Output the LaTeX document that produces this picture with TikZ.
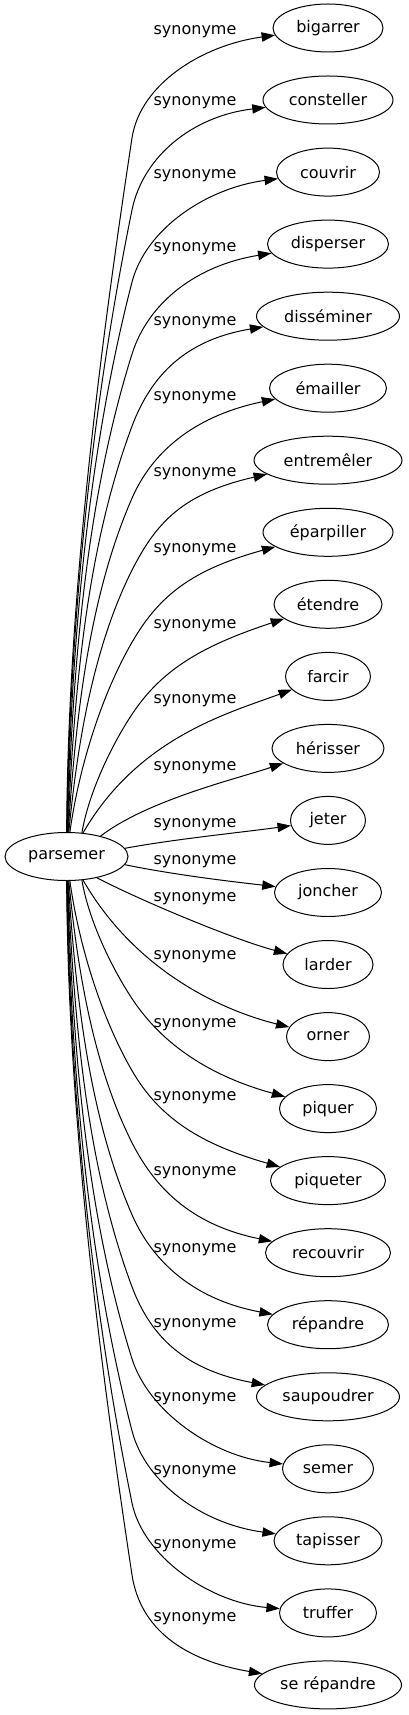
\documentclass[tikz,border=0pt]{standalone}
\usepackage{fontspec}
\setmainfont{DejaVu Sans}
\usetikzlibrary{shapes.geometric,arrows.meta}
\begin{document}
\begin{tikzpicture}[x=0.75pt, y=-0.75pt,
        mot/.style={draw, ellipse, line width=0.75pt, minimum height=36pt, inner sep=1pt, font=\fontsize{12}{14}\selectfont},
        lien/.style={line width=0.75pt, -{Triangle[length=10pt, width=7pt]}},
        etiq/.style={inner sep=0pt, font=\fontsize{12}{14}\selectfont}]
            \useasboundingbox ( 0, 0 ) rectangle ( 408, 1715 );

            % mot de départ
            \node [mot, minimum width=92.25pt] (parsemer) at ( 66.5, 856.5 ) {parsemer};

            % synonymes
            \node [mot, minimum width=82.5pt] (bigarrer) at ( 328, 28 ) {bigarrer};
            \node [mot, minimum width=97.5pt] (consteller) at ( 328, 100 ) {consteller};
            \node [mot, minimum width=77.25pt] (couvrir) at ( 328, 172.1 ) {couvrir};
            \node [mot, minimum width=90.75pt] (disperser) at ( 328, 244.1 ) {disperser};
            \node [mot, minimum width=107.25pt] (disseminer) at ( 328, 316.2 ) {disséminer};
            \node [mot, minimum width=87.75pt] (emailler) at ( 328, 388.2 ) {émailler};
            \node [mot, minimum width=111pt] (entremeler) at ( 328, 460.2 ) {entremêler};
            \node [mot, minimum width=97.5pt] (eparpiller) at ( 328, 532.3 ) {éparpiller};
            \node [mot, minimum width=81pt] (etendre) at ( 328, 604.3 ) {étendre};
            \node [mot, minimum width=63.75pt] (farcir) at ( 328, 676.4 ) {farcir};
            \node [mot, minimum width=84pt] (herisser) at ( 328, 748.4 ) {hérisser};
            \node [mot, minimum width=56.25pt] (jeter) at ( 328, 820.4 ) {jeter};
            \node [mot, minimum width=80.25pt] (joncher) at ( 328, 892.5 ) {joncher};
            \node [mot, minimum width=67.5pt] (larder) at ( 328, 964.5 ) {larder};
            \node [mot, minimum width=62.25pt] (orner) at ( 328, 1036.6 ) {orner};
            \node [mot, minimum width=72.75pt] (piquer) at ( 328, 1108.6 ) {piquer};
            \node [mot, minimum width=86.25pt] (piqueter) at ( 328, 1180.6 ) {piqueter};
            \node [mot, minimum width=93.75pt] (recouvrir) at ( 328, 1252.7 ) {recouvrir};
            \node [mot, minimum width=90.75pt] (repandre) at ( 328, 1324.7 ) {répandre};
            \node [mot, minimum width=107.25pt] (saupoudrer) at ( 328, 1396.8 ) {saupoudrer};
            \node [mot, minimum width=68.25pt] (semer) at ( 328, 1468.8 ) {semer};
            \node [mot, minimum width=81pt] (tapisser) at ( 328, 1540.8 ) {tapisser};
            \node [mot, minimum width=72.75pt] (truffer) at ( 328, 1612.9 ) {truffer};
            \node [mot, minimum width=110.25pt] (serepandre) at ( 328, 1684.9 ) {se répandre};

            % liens vers le haut
            \draw [lien] (parsemer) .. controls ( 68, 603.6 ) and ( 97.6, 364.9 ) .. ( 132, 138 ) .. controls ( 140.3, 83.6 ) and ( 203, 45 ) .. (bigarrer);
            \draw [lien] (parsemer) .. controls ( 69.5, 627.4 ) and ( 90.9, 411.5 ) .. ( 132, 210 ) .. controls ( 143, 156.1 ) and ( 193, 116 ) .. (consteller);
            \draw [lien] (parsemer) .. controls ( 71, 651.2 ) and ( 86.5, 458.1 ) .. ( 132, 282.1 ) .. controls ( 145.8, 228.9 ) and ( 206.5, 188.1 ) .. (couvrir);
            \draw [lien] (parsemer) .. controls ( 72.5, 675 ) and ( 84.6, 504.8 ) .. ( 132, 354.1 ) .. controls ( 148.5, 301.6 ) and ( 197.5, 265.1 ) .. (disperser);
            \draw [lien] (parsemer) .. controls ( 74, 698.8 ) and ( 85, 551.9 ) .. ( 132, 426.2 ) .. controls ( 151.3, 374.7 ) and ( 186.5, 339.6 ) .. (disseminer);
            \draw [lien] (parsemer) .. controls ( 75.5, 722.5 ) and ( 87.8, 599.5 ) .. ( 132, 498.2 ) .. controls ( 154, 447.8 ) and ( 199.5, 414.7 ) .. (emailler);
            \draw [lien] (parsemer) .. controls ( 77, 746.3 ) and ( 93, 647.6 ) .. ( 132, 570.2 ) .. controls ( 156.8, 521.1 ) and ( 184, 493.2 ) .. (entremeler);
            \draw [lien] (parsemer) .. controls ( 78.5, 770.1 ) and ( 100.5, 696.8 ) .. ( 132, 642.3 ) .. controls ( 159.5, 594.7 ) and ( 193, 569.4 ) .. (eparpiller);
            \draw [lien] (parsemer.57) .. controls ( 88.5, 793.9 ) and ( 110.4, 747 ) .. ( 132, 714.3 ) .. controls ( 162.3, 668.4 ) and ( 204, 645.2 ) .. (etendre);
            \draw [lien] (parsemer.55) .. controls ( 138, 738 ) and ( 227, 713.5 ) .. (farcir);
            \draw [lien] (parsemer.31) .. controls ( 148, 800 ) and ( 236, 779 ) .. (herisser);
            \draw [lien] (parsemer.8) .. controls ( 175, 839 ) and ( 245, 832 ) .. (jeter);

            % liens vers le bas
            \draw [lien] (parsemer.-8) .. controls ( 175, 875 ) and ( 235, 882 ) .. (joncher);
            \draw [lien] (parsemer.-35) .. controls ( 141, 900.7 ) and ( 234, 939.6 ) .. (larder);
            \draw [lien] (parsemer.-55) .. controls ( 137.7, 974.9 ) and ( 228, 1012 ) .. (orner);
            \draw [lien] (parsemer.-57) .. controls ( 88.5, 919.1 ) and ( 110.5, 965.9 ) .. ( 132, 998.6 ) .. controls ( 162.3, 1044.5 ) and ( 209.5, 1075.8 ) .. (piquer);
            \draw [lien] (parsemer) .. controls ( 78.5, 942.9 ) and ( 100.5, 1016.1 ) .. ( 132, 1070.6 ) .. controls ( 159.5, 1118.2 ) and ( 200.5, 1144.1 ) .. (piqueter);
            \draw [lien] (parsemer) .. controls ( 77, 966.7 ) and ( 93, 1065.3 ) .. ( 132, 1142.7 ) .. controls ( 156.8, 1191.8 ) and ( 195.5, 1225.8 ) .. (recouvrir);
            \draw [lien] (parsemer) .. controls ( 75.5, 990.5 ) and ( 87.8, 1113.4 ) .. ( 132, 1214.7 ) .. controls ( 154, 1265.1 ) and ( 197.5, 1300.2 ) .. (repandre);
            \draw [lien] (parsemer) .. controls ( 74, 1014.2 ) and ( 85, 1161.1 ) .. ( 132, 1286.8 ) .. controls ( 151.3, 1338.3 ) and ( 186.5, 1370.2 ) .. (saupoudrer);
            \draw [lien] (parsemer) .. controls ( 72.5, 1038 ) and ( 84.6, 1208.1 ) .. ( 132, 1358.8 ) .. controls ( 148.5, 1411.3 ) and ( 212.5, 1456.3 ) .. (semer);
            \draw [lien] (parsemer) .. controls ( 71, 1061.8 ) and ( 86.5, 1254.8 ) .. ( 132, 1430.8 ) .. controls ( 145.8, 1484 ) and ( 204, 1524.2 ) .. (tapisser);
            \draw [lien] (parsemer) .. controls ( 69.5, 1085.6 ) and ( 90.9, 1301.4 ) .. ( 132, 1502.9 ) .. controls ( 143, 1556.8 ) and ( 209.5, 1602.4 ) .. (truffer);
            \draw [lien] (parsemer) .. controls ( 68, 1109.3 ) and ( 97.6, 1348.1 ) .. ( 132, 1574.9 ) .. controls ( 140.3, 1629.3 ) and ( 184.5, 1660.4 ) .. (serepandre);

            % étiquettes
            \node [etiq] (e-bigarrer) at ( 195, 32 ) {synonyme};
            \node [etiq] (e-consteller) at ( 195, 103 ) {synonyme};
            \node [etiq] (e-couvrir) at ( 195, 176 ) {synonyme};
            \node [etiq] (e-disperser) at ( 195, 249 ) {synonyme};
            \node [etiq] (e-disseminer) at ( 195, 323 ) {synonyme};
            \node [etiq] (e-emailler) at ( 195, 398 ) {synonyme};
            \node [etiq] (e-entremeler) at ( 195, 474 ) {synonyme};
            \node [etiq] (e-eparpiller) at ( 195, 550 ) {synonyme};
            \node [etiq] (e-etendre) at ( 195, 626 ) {synonyme};
            \node [etiq] (e-farcir) at ( 195, 701 ) {synonyme};
            \node [etiq] (e-herisser) at ( 195, 768 ) {synonyme};
            \node [etiq] (e-jeter) at ( 195, 825 ) {synonyme};
            \node [etiq] (e-joncher) at ( 195, 862 ) {synonyme};
            \node [etiq] (e-larder) at ( 195, 899 ) {synonyme};
            \node [etiq] (e-orner) at ( 195, 957 ) {synonyme};
            \node [etiq] (e-piquer) at ( 195, 1025 ) {synonyme};
            \node [etiq] (e-piqueter) at ( 195, 1098 ) {synonyme};
            \node [etiq] (e-recouvrir) at ( 195, 1173 ) {synonyme};
            \node [etiq] (e-repandre) at ( 195, 1250 ) {synonyme};
            \node [etiq] (e-saupoudrer) at ( 195, 1325 ) {synonyme};
            \node [etiq] (e-semer) at ( 195, 1399 ) {synonyme};
            \node [etiq] (e-tapisser) at ( 195, 1472 ) {synonyme};
            \node [etiq] (e-truffer) at ( 195, 1546 ) {synonyme};
            \node [etiq] (e-serepandre) at ( 195, 1619 ) {synonyme};
        \end{tikzpicture}
\end{document}
